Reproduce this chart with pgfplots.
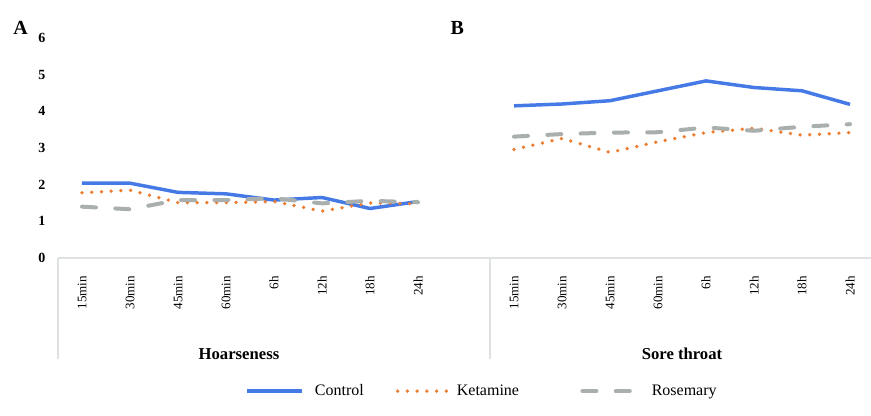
\documentclass[border=0pt]{standalone}
\usepackage{fontspec}
\setmainfont{Liberation Serif}
\usepackage{pgfplots}
\pgfplotsset{compat=1.18}
\definecolor{ctrl}{RGB}{69,121,230}
\definecolor{ket}{RGB}{237,125,49}
\definecolor{ros}{RGB}{168,175,172}
\definecolor{boxc}{RGB}{222,226,226}
\begin{document}
\begin{tikzpicture}
\begin{axis}[
  x=36pt, y=27.5pt,
  xmin=-0.5, xmax=16.45, ymin=0, ymax=6,
  enlargelimits=false,
  clip=false,
  axis line style={draw=none},
  major tick length=0pt,
  unbounded coords=jump,
  ytick={0,1,2,3,4,5,6},
  xtick={0,1,2,3,4,5,6,7,9,10,11,12,13,14,15,16},
  xticklabels={15min,30min,45min,60min,6h,12h,18h,24h,15min,30min,45min,60min,6h,12h,18h,24h},
  /pgf/number format/assume math mode=true,
  yticklabel style={font=\bfseries\fontsize{10.5}{12}\selectfont, xshift=-6pt},
  xticklabel style={font=\fontsize{9.8}{12}\selectfont, rotate=90, anchor=east, xshift=-10pt},
  legend columns=3,
  legend style={at={(axis cs:3.40,-3.63)}, anchor=west, draw=none, fill=none,
    font=\fontsize{12}{14}\selectfont, inner sep=0pt,
    /tikz/column 1/.style={column sep=6.5pt},
    /tikz/column 2/.style={column sep=22pt},
    /tikz/column 3/.style={column sep=0pt},
    /tikz/column 4/.style={column sep=44pt},
    /tikz/column 5/.style={column sep=7.5pt}},
  legend image code/.code={\draw[#1] (0pt,0pt) -- (41pt,0pt);},
]
\coordinate (O) at (axis cs:-0.5,0);
\addplot[ctrl, line width=2.6pt] coordinates {
 (0,2.04) (1,2.04) (2,1.79) (3,1.75) (4,1.58) (5,1.65) (6,1.35) (7,1.54)
 (8,nan)
 (9,4.15) (10,4.20) (11,4.29) (12,4.56) (13,4.83) (14,4.65) (15,4.56) (16,4.19)};
\addlegendentry{Control}
\addplot[ket, line width=2.8pt, line cap=round, dash pattern=on 0pt off 7.3pt] coordinates {
 (0,1.78) (1,1.85) (2,1.51) (3,1.51) (4,1.54) (5,1.28) (6,1.50) (7,1.48)
 (8,nan)
 (9,2.96) (10,3.26) (11,2.88) (12,3.17) (13,3.42) (14,3.54) (15,3.35) (16,3.42)};
\addlegendentry{Ketamine}
\addplot[ros, line width=3pt, line cap=round, dash pattern=on 10.5pt off 14.5pt] coordinates {
 (0,1.40) (1,1.33) (2,1.58) (3,1.58) (4,1.63) (5,1.49) (6,1.56) (7,1.52)
 (8,nan)
 (9,3.31) (10,3.38) (11,3.42) (12,3.43) (13,3.56) (14,3.47) (15,3.58) (16,3.65)};
\addlegendentry{Rosemary}
\draw[boxc, line width=0.9pt] (axis cs:-0.5,0) -- (axis cs:16.45,0);
\draw[boxc, line width=0.9pt] (axis cs:-0.5,0) -- ([yshift=-76pt]axis cs:-0.5,0);
\draw[boxc, line width=0.9pt] (axis cs:8.5,0) -- ([yshift=-76pt]axis cs:8.5,0);
\node[font=\bfseries\fontsize{12.5}{14}\selectfont] at ([yshift=-72pt]axis cs:3.27,0) {Hoarseness};
\node[font=\bfseries\fontsize{12.5}{14}\selectfont] at ([yshift=-72pt]axis cs:12.5,0) {Sore throat};
\node[font=\bfseries\fontsize{15}{17}\selectfont] at (axis cs:-1.28,6.27) {A};
\node[font=\bfseries\fontsize{15}{17}\selectfont] at (axis cs:7.82,6.27) {B};
\end{axis}
\pgfresetboundingbox
\useasboundingbox ([xshift=-43.5pt,yshift=-117.75pt]O) rectangle ([xshift=609.75pt,yshift=193.5pt]O);
\end{tikzpicture}
\end{document}
